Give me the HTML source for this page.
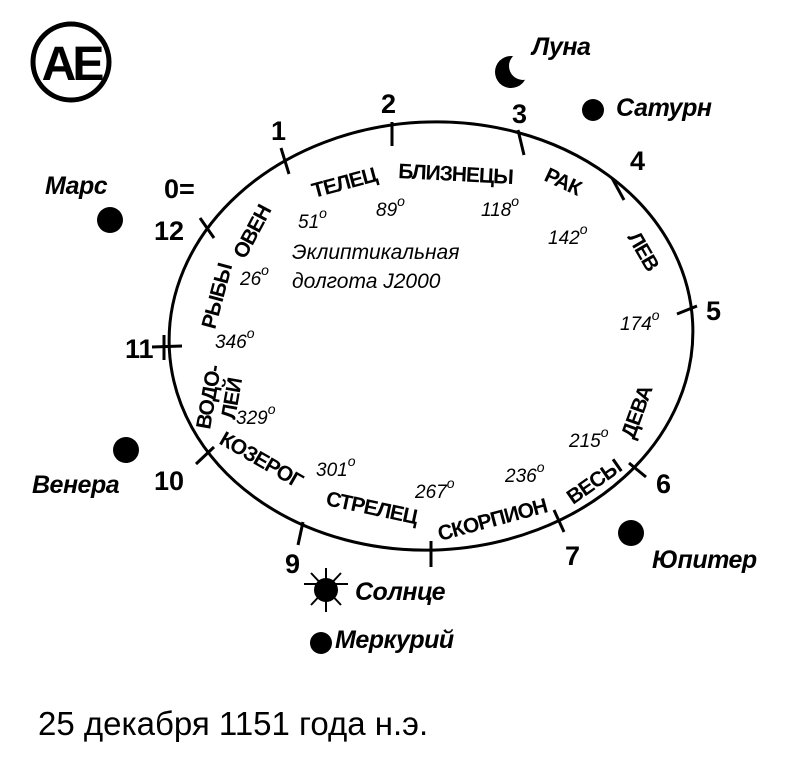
<!DOCTYPE html>
<html><head><meta charset="utf-8"><style>
html,body{margin:0;padding:0;background:#fff;}
svg{display:block;}
.b{font-family:"Liberation Sans",sans-serif;font-weight:bold;fill:#000;}
.bi{font-family:"Liberation Sans",sans-serif;font-weight:bold;font-style:italic;fill:#000;}
.i{font-family:"Liberation Sans",sans-serif;font-style:italic;fill:#000;}
</style></head><body>
<svg width="800" height="762" viewBox="0 0 800 762" xmlns="http://www.w3.org/2000/svg">
<defs><mask id="m"><rect width="800" height="762" fill="#fff"/><circle cx="523" cy="66" r="14" fill="#000"/></mask></defs>
<circle cx="71" cy="62" r="38" fill="none" stroke="#000" stroke-width="5"/>
<text x="71" y="80" text-anchor="middle" class="b" font-size="48" letter-spacing="-4">AE</text>
<ellipse cx="431" cy="336" rx="262" ry="214" transform="rotate(-3 431 336)" fill="none" stroke="#000" stroke-width="3"/>
<g stroke="#000" stroke-width="3">
<line x1="200" y1="218" x2="214" y2="238"/>
<line x1="281" y1="148" x2="289" y2="174"/>
<line x1="392" y1="122" x2="392" y2="146"/>
<line x1="518" y1="130" x2="524" y2="155"/>
<line x1="612" y1="178" x2="624" y2="200"/>
<line x1="677" y1="314" x2="697" y2="306"/>
<line x1="629" y1="463" x2="646" y2="477"/>
<line x1="554" y1="510" x2="564" y2="532"/>
<line x1="431" y1="541" x2="431" y2="567"/>
<line x1="303" y1="522" x2="298" y2="545"/>
<line x1="196" y1="464" x2="214" y2="447"/>
<line x1="152" y1="347" x2="182" y2="346"/>
<line x1="164" y1="335" x2="164" y2="360"/>
</g>
<g class="b" font-size="27">
<text x="164" y="198">0=</text>
<text x="154" y="240">12</text>
<text x="271" y="140">1</text>
<text x="381" y="113">2</text>
<text x="512" y="123">3</text>
<text x="630" y="170">4</text>
<text x="706" y="320">5</text>
<text x="656" y="493">6</text>
<text x="565" y="565">7</text>
<text x="285" y="573">9</text>
<text x="154" y="490">10</text>
<text x="125" y="358">11</text>
</g>
<g class="b" font-size="21" letter-spacing="-1">
<text transform="translate(245,260) rotate(-62)">ОВЕН</text>
<text transform="translate(314,198) rotate(-15)">ТЕЛЕЦ</text>
<text transform="translate(398,178) rotate(3)">БЛИЗНЕЦЫ</text>
<text transform="translate(543,180) rotate(25)">РАК</text>
<text transform="translate(627,237) rotate(60)">ЛЕВ</text>
<text transform="translate(634,440) rotate(-70)">ДЕВА</text>
<text transform="translate(573,505) rotate(-35)">ВЕСЫ</text>
<text transform="translate(440,541) rotate(-15)">СКОРПИОН</text>
<text transform="translate(325,505) rotate(12)">СТРЕЛЕЦ</text>
<text transform="translate(218,443) rotate(30)">КОЗЕРОГ</text>
<text transform="translate(215,330) rotate(-75)">РЫБЫ</text>
<text transform="translate(210,430) rotate(-80)">ВОДО-</text>
<text transform="translate(235,420) rotate(-80)">ЛЕЙ</text>
</g>
<g class="i" font-size="19">
<text x="298" y="228">51<tspan font-size="14" dy="-10">o</tspan></text>
<text x="376" y="216">89<tspan font-size="14" dy="-10">o</tspan></text>
<text x="481" y="216">118<tspan font-size="14" dy="-10">o</tspan></text>
<text x="548" y="244">142<tspan font-size="14" dy="-10">o</tspan></text>
<text x="620" y="330">174<tspan font-size="14" dy="-10">o</tspan></text>
<text x="240" y="285">26<tspan font-size="14" dy="-10">o</tspan></text>
<text x="215" y="348">346<tspan font-size="14" dy="-10">o</tspan></text>
<text x="236" y="424">329<tspan font-size="14" dy="-10">o</tspan></text>
<text x="316" y="476">301<tspan font-size="14" dy="-10">o</tspan></text>
<text x="415" y="498">267<tspan font-size="14" dy="-10">o</tspan></text>
<text x="505" y="482">236<tspan font-size="14" dy="-10">o</tspan></text>
<text x="569" y="447">215<tspan font-size="14" dy="-10">o</tspan></text>
<text x="292" y="259" font-size="21">Эклиптикальная</text>
<text x="292" y="288" font-size="21">долгота J2000</text>
</g>
<g class="bi" font-size="25" letter-spacing="-0.5">
<text x="45" y="194">Марс</text>
<text x="532" y="55">Луна</text>
<text x="616" y="116">Сатурн</text>
<text x="32" y="493">Венера</text>
<text x="652" y="568">Юпитер</text>
<text x="355" y="600">Солнце</text>
<text x="335" y="648">Меркурий</text>
</g>
<circle cx="110" cy="220" r="13" fill="#000"/>
<circle cx="593" cy="110" r="11" fill="#000"/>
<circle cx="126" cy="450" r="13" fill="#000"/>
<circle cx="631" cy="533" r="13" fill="#000"/>
<circle cx="321" cy="643" r="11" fill="#000"/>
<circle cx="326" cy="590" r="12" fill="#000"/>
<g stroke="#000" stroke-width="2">
<line x1="326" y1="568" x2="326" y2="612"/>
<line x1="304" y1="584" x2="348" y2="584"/>
<line x1="311" y1="573" x2="341" y2="605"/>
<line x1="341" y1="573" x2="311" y2="605"/>
</g>
<circle cx="511" cy="72" r="16" fill="#000" mask="url(#m)"/>
<text x="38" y="735" font-family="Liberation Sans,sans-serif" font-size="33" fill="#000">25 декабря 1151 года н.э.</text>
</svg>
</body></html>
